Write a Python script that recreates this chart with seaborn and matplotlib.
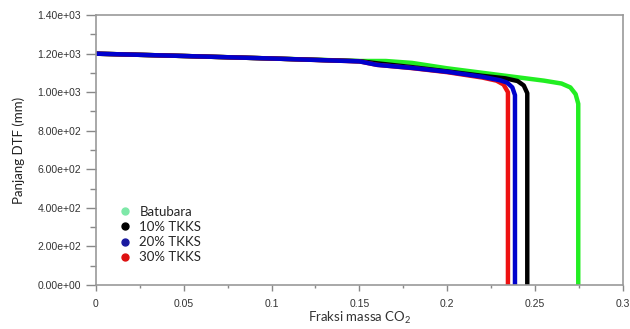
import numpy as np
import pandas as pd
import matplotlib
matplotlib.use("Agg")
import matplotlib.pyplot as plt
import seaborn as sns
from matplotlib.lines import Line2D
from matplotlib.ticker import FormatStrFormatter, MultipleLocator

# ==================================================
# DATA
# ==================================================
series_names = ["Batubara", "10% TKKS", "20% TKKS", "30% TKKS"]

batubara_x = [0, 0.05, 0.10, 0.15, 0.165, 0.18, 0.20, 0.23, 0.255, 0.265, 0.270, 0.273, 0.2745, 0.2745]
batubara_y = [1200, 1188, 1175, 1162, 1162, 1152, 1124, 1089, 1060, 1045, 1025, 990, 940, 0]

tkks10_x = [0, 0.05, 0.10, 0.15, 0.16, 0.18, 0.20, 0.22, 0.233, 0.240, 0.2435, 0.2455, 0.2455]
tkks10_y = [1200, 1188, 1175, 1161, 1150, 1130, 1108, 1085, 1072, 1058, 1035, 995, 0]

tkks20_x = [0, 0.05, 0.10, 0.15, 0.16, 0.18, 0.20, 0.22, 0.23, 0.234, 0.237, 0.2385, 0.2385]
tkks20_y = [1200, 1188, 1175, 1160, 1142, 1126, 1106, 1080, 1062, 1050, 1025, 985, 0]

tkks30_x = [0, 0.05, 0.10, 0.15, 0.16, 0.18, 0.20, 0.22, 0.228, 0.232, 0.2345, 0.2345]
tkks30_y = [1200, 1188, 1175, 1160, 1142, 1125, 1104, 1076, 1060, 1040, 1000, 0]

line_colors = {"Batubara": "#22ee22", "10% TKKS": "#000000",
               "20% TKKS": "#0000cc", "30% TKKS": "#ee1111"}
legend_colors = {"Batubara": "#7ee8a8", "10% TKKS": "#000000",
                 "20% TKKS": "#1a1aa0", "30% TKKS": "#dd1111"}

# long-form table; order so blue ends up drawn on top
frames = []
for name, xs, ys in [("Batubara", batubara_x, batubara_y),
                     ("10% TKKS", tkks10_x, tkks10_y),
                     ("30% TKKS", tkks30_x, tkks30_y),
                     ("20% TKKS", tkks20_x, tkks20_y)]:
    frames.append(pd.DataFrame({"x": xs, "y": ys, "seri": name}))
df = pd.concat(frames, ignore_index=True)

# ==================================================
# PLOT
# ==================================================
sns.set_theme(style="white")
plt.rcParams["font.family"] = ["Liberation Sans", "DejaVu Sans"]

fig, ax = plt.subplots(figsize=(6.3, 3.29), dpi=100)
fig.subplots_adjust(left=0.152, right=0.989, bottom=0.134, top=0.954)

sns.lineplot(data=df, x="x", y="y", hue="seri", palette=line_colors,
             hue_order=["Batubara", "10% TKKS", "30% TKKS", "20% TKKS"],
             sort=False, estimator=None, linewidth=3.2, legend=False, ax=ax)

ax.set_xlim(0, 0.3)
ax.set_ylim(0, 1400)
ax.xaxis.set_major_locator(MultipleLocator(0.05))
ax.xaxis.set_minor_locator(MultipleLocator(0.025))
ax.yaxis.set_major_locator(MultipleLocator(200))
ax.yaxis.set_minor_locator(MultipleLocator(100))
ax.yaxis.set_major_formatter(FormatStrFormatter("%.2e"))
ax.xaxis.set_major_formatter(FormatStrFormatter("%g"))

ax.tick_params(axis="both", which="major", direction="out", labelsize=7.5,
               labelcolor="#333333", color="#888888", width=1)
ax.tick_params(axis="y", which="major", length=7, left=True)
ax.tick_params(axis="y", which="minor", length=4, left=True, color="#888888")
ax.tick_params(axis="x", which="major", length=4, bottom=True, pad=6)
ax.tick_params(axis="x", which="minor", length=2, bottom=True, color="#888888")

for sp in ax.spines.values():
    sp.set_color("#999999")
    sp.set_linewidth(1.2)

ax.set_xlabel("Fraksi massa CO$_{\\mathregular{2}}$", fontsize=9.5, family="Lato",
              color="#333333", labelpad=1)
ax.set_ylabel("Panjang DTF (mm)", fontsize=9.5, family="Lato", color="#222222",
              labelpad=9)

handles = [Line2D([0], [0], marker="o", linestyle="", markersize=5,
                  markerfacecolor=legend_colors[n], markeredgecolor=legend_colors[n])
           for n in series_names]
ax.legend(handles, series_names, loc="lower left", bbox_to_anchor=(0.02, 0.06),
          frameon=False, handletextpad=0.1, labelspacing=0.25,
          prop={"family": "Lato", "size": 9.5}, borderaxespad=0)

fig.savefig("out.png", dpi=100)
